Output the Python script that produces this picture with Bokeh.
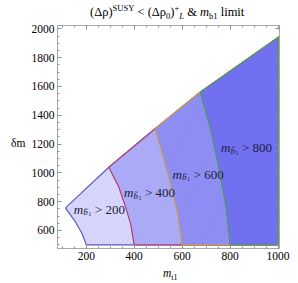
from bokeh.plotting import figure
from bokeh.models import Range1d, LinearAxis, FixedTicker, Label, Div
from bokeh.layouts import column, row
from bokeh.embed import file_html
from bokeh.resources import INLINE

# ---------------- data ----------------
# upper boundary of the allowed region (m_t1, delta m)
top_x = [113, 294, 487, 675, 1000]
top_y = [757, 1039, 1306, 1560, 1940]
# contours m_b1 = 200, 400, 600, 800
mb1_limits = [200, 400, 600, 800]
c200_x = [113, 151, 183, 200]
c200_y = [757, 669, 577, 500]
c400_x = [294, 336, 364, 385, 400]
c400_y = [1039, 900, 762, 646, 500]
c600_x = [487, 512, 535, 558, 582, 600]
c600_y = [1306, 1168, 1029, 880, 720, 500]
c800_x = [675, 720, 755, 783, 800]
c800_y = [1560, 1294, 1016, 762, 500]
dm_min = 500
mt1_max = 1000
x_ticks = [200, 400, 600, 800, 1000]
y_ticks = [600, 800, 1000, 1200, 1400, 1600, 1800, 2000]
label_texts = ["> 200", "> 400", "> 600", "> 800"]
# ---------------- styling / layout ----------------
label_pos = [(148, 739), (357, 855), (560, 982), (762, 1166)]
fills = ["#d7d7fc", "#ababf8", "#8e8ef5", "#7070f1"]
edges = ["#5a5abf", "#b0406e", "#c49a48", "#4f9a5c"]
SERIF = "Liberation Serif"

contours = [(c200_x, c200_y), (c400_x, c400_y), (c600_x, c600_y), (c800_x, c800_y)]

p = figure(width=263, height=245, x_range=Range1d(80, 1006), y_range=Range1d(475, 2023),
           output_backend="svg", toolbar_location=None, margin=0,
           min_border_left=30, min_border_right=11, min_border_top=5, min_border_bottom=17)
p.grid.visible = False
p.outline_line_color = "#a8a8a8"
p.background_fill_color = "white"

for (cx, cy), fc, ec in zip(contours, fills, edges):
    tx = [x for x in top_x if cx[0] < x < mt1_max]
    ty = [y for x, y in zip(top_x, top_y) if cx[0] < x < mt1_max]
    xs = list(cx) + [mt1_max, mt1_max] + tx[::-1] + [cx[0]]
    ys = list(cy) + [dm_min, top_y[-1]] + ty[::-1] + [cy[0]]
    p.patch(xs, ys, fill_color=fc, line_color=None,
            hatch_pattern="/", hatch_color="#5050d0", hatch_alpha=0.12,
            hatch_scale=9, hatch_weight=0.6)
    p.line(xs, ys, line_color=ec, line_width=1.2)

x_minor = [v for v in range(100, 1001, 50) if v not in x_ticks]
y_minor = [v for v in range(500, 2001, 50) if v not in y_ticks]

def style_axis(ax, ticks, minor, show_labels=True):
    ax.ticker = FixedTicker(ticks=ticks, minor_ticks=minor)
    ax.axis_line_color = "#a8a8a8"
    ax.major_tick_line_color = "#909090"
    ax.minor_tick_line_color = "#909090"
    ax.major_tick_in = 4
    ax.major_tick_out = 0
    ax.minor_tick_in = 2
    ax.minor_tick_out = 0
    ax.major_label_standoff = 3
    ax.major_label_text_font = SERIF
    ax.major_label_text_font_size = "11.5px"
    ax.major_label_text_color = "black"
    if not show_labels:
        ax.major_label_overrides = {t: "" for t in ticks}
        ax.major_label_standoff = 0
        ax.major_label_text_font_size = "1px"

style_axis(p.xaxis[0], x_ticks, x_minor)
style_axis(p.yaxis[0], y_ticks, y_minor)
top_ax = LinearAxis()
style_axis(top_ax, x_ticks, x_minor, False)
right_ax = LinearAxis()
style_axis(right_ax, y_ticks, y_minor, False)
p.add_layout(top_ax, "above")
p.add_layout(right_ax, "right")

# in-plot labels
lab_col = "#20203a"
for (lx, ly), txt in zip(label_pos, label_texts):
    p.add_layout(Label(x=lx, y=ly, text="m", text_font=SERIF, text_font_size="13px",
                       text_font_style="italic", text_baseline="alphabetic",
                       y_offset=1, text_color=lab_col))
    p.add_layout(Label(x=lx, y=ly, text="b\u0303", text_font=SERIF, text_font_size="9px",
                       text_font_style="italic", text_baseline="alphabetic",
                       x_offset=9.5, y_offset=-2, text_color=lab_col))
    p.add_layout(Label(x=lx, y=ly, text="1", text_font=SERIF, text_font_size="6px",
                       text_baseline="alphabetic",
                       x_offset=14.5, y_offset=-4, text_color=lab_col))
    p.add_layout(Label(x=lx, y=ly, text=txt, text_font=SERIF, text_font_size="13px",
                       text_baseline="alphabetic",
                       x_offset=21, y_offset=1, text_color=lab_col))

SUP = "font-size:8.5px; vertical-align:5px; line-height:0"
SUB = "font-size:8.5px; vertical-align:-3px; line-height:0"
title_html = (
    f"<div style=\"padding:5px 0 0 90px; font-family:'{SERIF}'; font-size:12.5px; "
    f"line-height:14px; white-space:nowrap; color:black\">"
    f"(Δρ)<span style=\"{SUP}\">SUSY</span> &lt; (Δρ<span style=\"{SUB}\">0</span>)"
    f"<span style=\"{SUP}\">+</span><span style=\"{SUB}\"><i>L</i></span> &amp; "
    f"<i>m</i><span style=\"{SUB}\">b1</span> limit</div>"
)
title_div = Div(text=title_html, width=298, height=20, margin=0)

ylab_html = (
    f"<div style=\"padding:117px 0 0 11px; font-family:'{SERIF}'; font-size:11.5px; "
    f"line-height:13px; white-space:nowrap; color:black\">δm</div>"
)
ylab_div = Div(text=ylab_html, width=27, height=245, margin=0)

xlab_html = (
    f"<div style=\"padding:1px 0 0 163px; font-family:'{SERIF}'; font-size:11.5px; "
    f"line-height:13px; white-space:nowrap; color:black\">"
    f"<i>m</i><span style=\"font-size:8px; vertical-align:-3px; line-height:0\">t1</span></div>"
)
xlab_div = Div(text=xlab_html, width=290, height=16, margin=0)

layout = column(title_div, row(ylab_div, p, spacing=0, margin=0), xlab_div, spacing=0, margin=0)

open("out.html", "w").write(file_html(layout, INLINE))
